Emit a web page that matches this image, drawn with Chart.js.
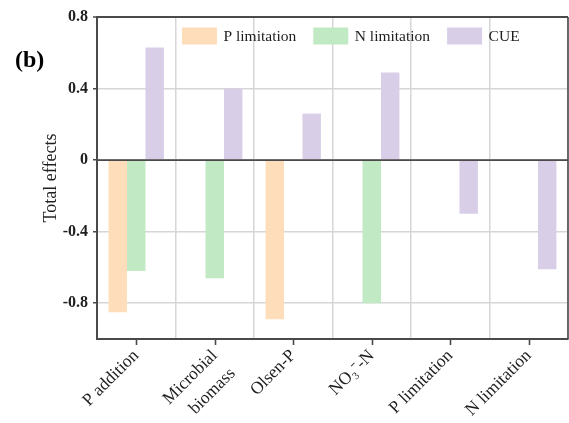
<!DOCTYPE html>
<html>
<head>
<meta charset="utf-8">
<script src="https://cdn.jsdelivr.net/npm/chart.js@4/dist/chart.umd.min.js"></script>
<style>
  html, body { margin: 0; padding: 0; background: #fff; }
  #wrap { width: 569px; height: 423px; position: relative; }
</style>
</head>
<body>
<div id="wrap"><canvas id="c" width="569" height="423"></canvas></div>
<script>
// Categories on the x axis (multi-line labels as arrays)
const categories = ['P addition', ['Microbial', 'biomass'], 'Olsen-P', 'NO₃⁻-N', 'P limitation', 'N limitation'];
const seriesNames = ['P limitation', 'N limitation', 'CUE'];

// Total effects per category (null = no path)
const pLimitationEffects = [-0.85, null, -0.89, null, null, null];
const nLimitationEffects = [-0.62, -0.66, null, -0.80, null, null];
const cueEffects = [0.63, 0.40, 0.26, 0.49, -0.30, -0.61];

// Y axis ticks
const yTickValues = [-0.8, -0.4, 0, 0.4, 0.8];
const yTickLabels = ['-0.8', '-0.4', '0', '0.4', '0.8'];

const panelLabel = '(b)';
const yAxisTitle = 'Total effects';

const SERIF = '"Liberation Serif", "Times New Roman", serif';
const AXIS = '#4a4a4a';
const GRID = '#d6d6d6';
const TEXT = '#1e1e1e';
const COLORS = ['rgb(253,221,186)', 'rgb(193,233,195)', 'rgb(217,206,232)'];

// Zero reference line, drawn over the bars
const zeroLine = {
  id: 'zeroLine',
  afterDatasetsDraw(chart) {
    const { ctx, chartArea } = chart;
    const y0 = chart.scales.y.getPixelForValue(0);
    ctx.save();
    ctx.strokeStyle = AXIS;
    ctx.lineWidth = 1.6;
    ctx.beginPath();
    ctx.moveTo(chartArea.left, y0);
    ctx.lineTo(chartArea.right, y0);
    ctx.stroke();
    ctx.restore();
  }
};

// Tick marks at category centres, right-hand frame, legend and panel letter
const decorations = {
  id: 'decorations',
  afterDraw(chart) {
    const { ctx, chartArea } = chart;
    const xs = chart.scales.x;
    ctx.save();
    ctx.strokeStyle = AXIS;
    ctx.lineWidth = 1.6;
    // right frame
    ctx.beginPath();
    ctx.moveTo(chartArea.right, chartArea.top);
    ctx.lineTo(chartArea.right, chartArea.bottom);
    ctx.stroke();
    // x tick marks
    xs.ticks.forEach((t, i) => {
      const x = Math.round(xs.getPixelForTick(i)) + 0.5;
      ctx.beginPath();
      ctx.moveTo(x, chartArea.bottom + 1);
      ctx.lineTo(x, chartArea.bottom + 6);
      ctx.stroke();
    });

    // legend inside the plot
    ctx.font = '15.5px ' + SERIF;
    ctx.textBaseline = 'middle';
    ctx.textAlign = 'left';
    let x = chartArea.left + 85;
    const yMid = chartArea.top + 19;
    chart.data.datasets.forEach(ds => {
      ctx.fillStyle = ds.backgroundColor;
      ctx.fillRect(x, yMid - 8.5, 35, 17);
      x += 35 + 6.5;
      ctx.fillStyle = TEXT;
      ctx.fillText(ds.label, x, yMid + 1);
      x += ctx.measureText(ds.label).width + 17;
    });

    // panel letter
    ctx.font = 'bold 24px ' + SERIF;
    ctx.textBaseline = 'alphabetic';
    ctx.fillStyle = '#000';
    ctx.fillText(panelLabel, 15, 67);
    ctx.restore();
  }
};

new Chart(document.getElementById('c'), {
  type: 'bar',
  data: {
    labels: categories,
    datasets: [
      { label: seriesNames[0], data: pLimitationEffects, backgroundColor: COLORS[0] },
      { label: seriesNames[1], data: nLimitationEffects, backgroundColor: COLORS[1] },
      { label: seriesNames[2], data: cueEffects, backgroundColor: COLORS[2] }
    ]
  },
  options: {
    responsive: false,
    devicePixelRatio: 1,
    animation: false,
    categoryPercentage: 0.705,
    barPercentage: 1.0,
    layout: { padding: { top: 17, right: 1, left: 0, bottom: 0 } },
    plugins: {
      legend: { display: false },
      tooltip: { enabled: false }
    },
    scales: {
      x: {
        afterFit: s => { s.height = 84; s.paddingLeft = 0; s.paddingRight = 0; },
        grid: { offset: true, color: GRID, lineWidth: 1.5, drawTicks: false },
        border: { color: AXIS, width: 2 },
        ticks: {
          autoSkip: false,
          minRotation: 45,
          maxRotation: 45,
          padding: 5,
          color: TEXT,
          font: { family: SERIF, size: 17.5, lineHeight: 1.45 }
        }
      },
      y: {
        min: -1.0,
        max: 0.8,
        afterBuildTicks: s => { s.ticks = yTickValues.map(v => ({ value: v })); },
        afterFit: s => { s.width = 97; },
        grid: {
          color: c => (c.tick && c.tick.value === 0.8) ? AXIS : GRID,
          lineWidth: c => (c.tick && c.tick.value === 0.8) ? 2 : 1.5,
          tickColor: AXIS,
          tickLength: 4,
          tickWidth: 1.5
        },
        border: { color: AXIS, width: 2 },
        ticks: {
          padding: 5,
          color: TEXT,
          font: { family: SERIF, size: 16, weight: 'bold' },
          callback: v => yTickLabels[yTickValues.indexOf(v)]
        },
        title: {
          display: true,
          text: yAxisTitle,
          color: TEXT,
          font: { family: SERIF, size: 18 },
          padding: { top: 40, bottom: 0 }
        }
      }
    }
  },
  plugins: [zeroLine, decorations]
});
</script>
</body>
</html>
